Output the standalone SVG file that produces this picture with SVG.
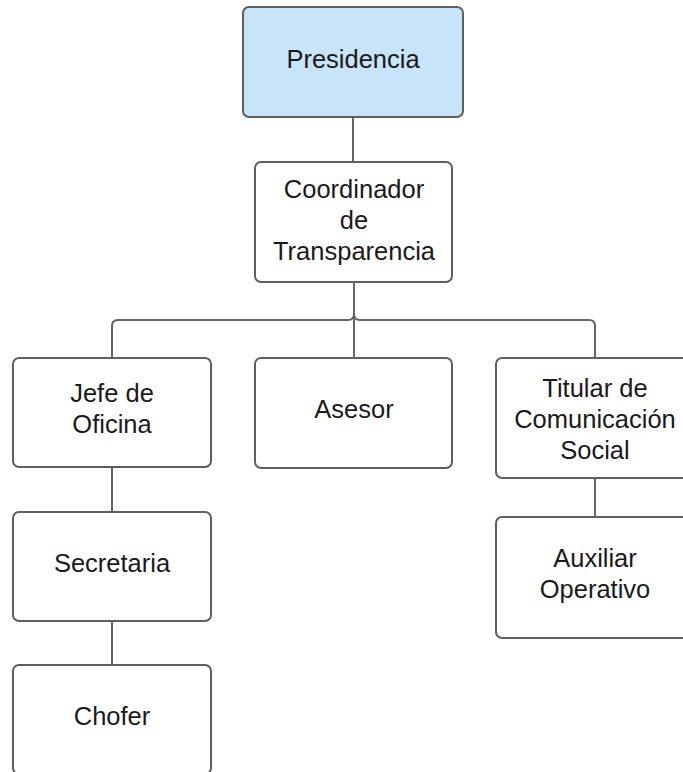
<svg xmlns="http://www.w3.org/2000/svg" width="683" height="772" viewBox="0 0 683 772">
<style>
.box{fill:#ffffff;stroke:#5f5f5f;stroke-width:2}
.top{fill:#c8e4f8}
.lbl{font-family:"Liberation Sans",Arial,sans-serif;font-size:25.5px;fill:#1a1a1a;text-anchor:middle}
.con{fill:none;stroke:#666666;stroke-width:2}
</style>
<rect width="683" height="772" fill="#ffffff"/>
<g id="connectors">
<path class="con" d="M353 117 V162"/>
<path class="con" d="M354 282 V314 Q354 320 348 320 H118 Q112 320 112 326 V358"/>
<path class="con" d="M354 282 V358"/>
<path class="con" d="M354 282 V314 Q354 320 360 320 H589 Q595 320 595 326 V358"/>
<path class="con" d="M112 467 V512"/>
<path class="con" d="M112 621 V665"/>
<path class="con" d="M595 478 V517"/>
</g>
<g id="presidencia">
<rect class="box top" x="243" y="7" width="220" height="110" rx="6"/>
<text class="lbl" x="353" y="68">Presidencia</text>
</g>
<g id="coordinador">
<rect class="box" x="255" y="162" width="197" height="120" rx="6"/>
<text class="lbl" x="354" y="198">Coordinador</text>
<text class="lbl" x="354" y="229">de</text>
<text class="lbl" x="354" y="260">Transparencia</text>
</g>
<g id="jefe">
<rect class="box" x="13" y="358" width="198" height="109" rx="6"/>
<text class="lbl" x="112" y="402">Jefe de</text>
<text class="lbl" x="112" y="433">Oficina</text>
</g>
<g id="asesor">
<rect class="box" x="255" y="358" width="197" height="110" rx="6"/>
<text class="lbl" x="354" y="418">Asesor</text>
</g>
<g id="titular">
<rect class="box" x="496" y="358" width="198" height="120" rx="6"/>
<text class="lbl" x="595" y="397">Titular de</text>
<text class="lbl" x="595" y="428">Comunicación</text>
<text class="lbl" x="595" y="459">Social</text>
</g>
<g id="secretaria">
<rect class="box" x="13" y="512" width="198" height="109" rx="6"/>
<text class="lbl" x="112" y="572">Secretaria</text>
</g>
<g id="chofer">
<rect class="box" x="13" y="665" width="198" height="109" rx="6"/>
<text class="lbl" x="112" y="725">Chofer</text>
</g>
<g id="auxiliar">
<rect class="box" x="496" y="517" width="198" height="121" rx="6"/>
<text class="lbl" x="595" y="567">Auxiliar</text>
<text class="lbl" x="595" y="598">Operativo</text>
</g>
</svg>
